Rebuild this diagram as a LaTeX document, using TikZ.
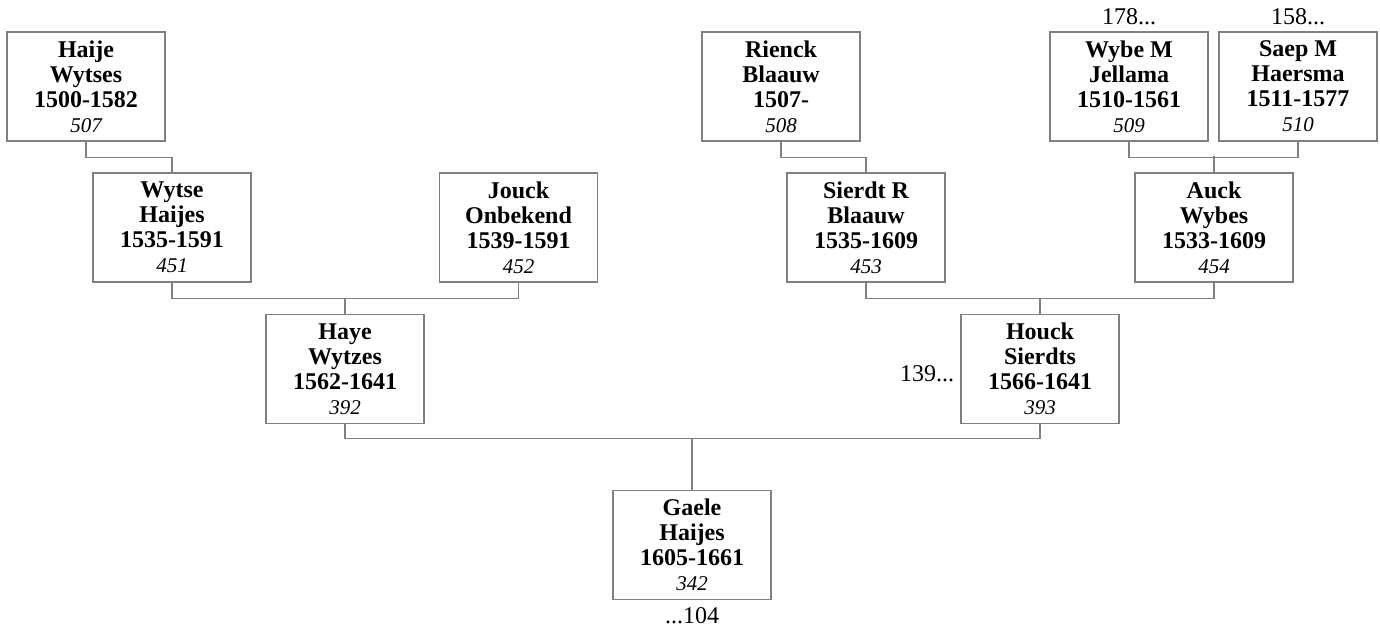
\documentclass[tikz,border=0pt]{standalone}
\usepackage{fontspec}
\setmainfont{Liberation Serif}
\usetikzlibrary{positioning}
\definecolor{boxgray}{RGB}{128,128,128}
\tikzset{
  persbox/.style={draw=boxgray, line width=0.6pt, minimum width=79pt,
    minimum height=54.5pt, inner sep=0pt, align=center,
    font=\fontsize{12}{12.5}\selectfont\bfseries},
  kinline/.style={draw=boxgray, line width=0.6pt},
  moreref/.style={font=\fontsize{12}{12.5}\selectfont, inner sep=1.5pt}}
\newcommand{\pnum}[1]{{\normalfont\itshape\fontsize{10.5}{12.5}\selectfont #1}}

\begin{document}
\begin{tikzpicture}[x=0.5pt, y=-0.5pt]
  \useasboundingbox (0,0) rectangle (1380,628);
  % great-grandparents
  \node[persbox] (haije)  at (86,86.5)   {Haije\\Wytses\\1500-1582\\\pnum{507}};
  \node[persbox] (rienck) at (781,86.5)  {Rienck\\Blaauw\\1507-\\\pnum{508}};
  \node[persbox] (wybe)   at (1129,86.5) {Wybe M\\Jellama\\1510-1561\\\pnum{509}};
  \node[persbox] (saep)   at (1298,86.5) {Saep M\\Haersma\\1511-1577\\\pnum{510}};
  % grandparents
  \node[persbox] (wytse)  at (172,227.5)   {Wytse\\Haijes\\1535-1591\\\pnum{451}};
  \node[persbox] (jouck)  at (518.5,227.5) {Jouck\\Onbekend\\1539-1591\\\pnum{452}};
  \node[persbox] (sierdt) at (866,227.5)   {Sierdt R\\Blaauw\\1535-1609\\\pnum{453}};
  \node[persbox] (auck)   at (1214,227.5)  {Auck\\Wybes\\1533-1609\\\pnum{454}};
  % parents
  \node[persbox] (haye)  at (345,369)  {Haye\\Wytzes\\1562-1641\\\pnum{392}};
  \node[persbox] (houck) at (1040,369) {Houck\\Sierdts\\1566-1641\\\pnum{393}};
  % child
  \node[persbox] (gaele) at (692,545) {Gaele\\Haijes\\1605-1661\\\pnum{342}};
  % references to other pages
  \node[moreref, above=1.5pt of wybe] {178...};
  \node[moreref, above=1.5pt of saep] {158...};
  \node[moreref, left=1.5pt of houck, yshift=-2.5pt] {139...};
  \node[moreref, below=2pt of gaele] {...104};
  % lines between the generations
  \draw[kinline] (haije.south) -- ++(0,16) -| (wytse.north);
  \draw[kinline] (rienck.south) -- ++(0,16) -| (sierdt.north);
  \draw[kinline] (wybe.south) -- ++(0,16) -| (saep.south);
  \draw[kinline] (auck.north) -- ++(0,-16);
  \draw[kinline] (wytse.south) -- ++(0,16) -| (jouck.south);
  \draw[kinline] (haye.north) -- ++(0,-16);
  \draw[kinline] (sierdt.south) -- ++(0,16) -| (auck.south);
  \draw[kinline] (houck.north) -- ++(0,-16);
  \draw[kinline] (haye.south) -- ++(0,14) coordinate (lowbar) -| (houck.south);
  \draw[kinline] (gaele.north) -- (gaele.north |- lowbar);
\end{tikzpicture}
\end{document}
